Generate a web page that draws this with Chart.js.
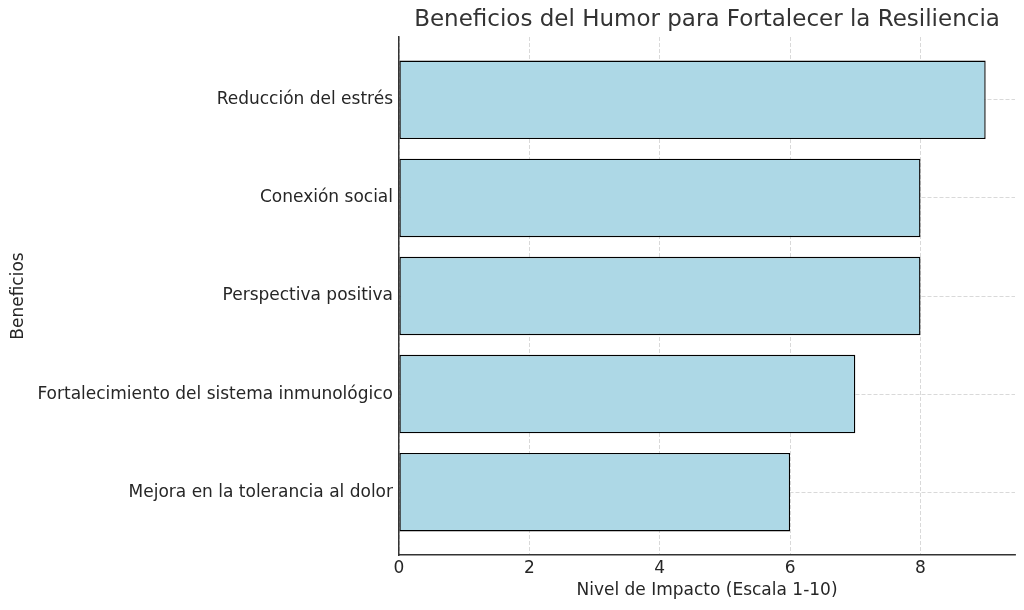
<!DOCTYPE html>
<html>
<head>
<meta charset="utf-8">
<script src="https://cdn.jsdelivr.net/npm/chart.js@4/dist/chart.umd.min.js"></script>
<style>
  body { margin: 0; background: #fff; }
  #wrap { width: 1024px; height: 610px; }
</style>
</head>
<body>
<div id="wrap"><canvas id="benefitsChart"></canvas></div>
<script>
// Benefits of humour chart - horizontal bars
const categories = [
    'Reducción del estrés',
    'Conexión social',
    'Perspectiva positiva',
    'Fortalecimiento del sistema inmunológico',
    'Mejora en la tolerancia al dolor'
];
const impactValues = [9, 8, 8, 7, 6];
const xTickValues = [0, 2, 4, 6, 8];
const chartTitle = 'Beneficios del Humor para Fortalecer la Resiliencia';

const FONT = 'DejaVu Sans';
const TEXT_COLOR = '#262626';

// title centered over the plot area, like the original
const titlePlugin = {
    id: 'plotTitle',
    afterDraw(chart) {
        const ctx = chart.ctx;
        const area = chart.chartArea;
        ctx.save();
        ctx.font = '23px "' + FONT + '"';
        ctx.fillStyle = '#333333';
        ctx.textAlign = 'center';
        ctx.textBaseline = 'middle';
        ctx.fillText(chartTitle, (area.left + area.right) / 2, 20);
        ctx.restore();
    }
};

const ctx = document.getElementById('benefitsChart');

new Chart(ctx, {
    type: 'bar',
    data: {
        datasets: [{
            data: impactValues.map((v, i) => ({ x: v, y: i })),
            backgroundColor: '#add8e6',
            borderColor: '#000000',
            borderWidth: 1.4,
            borderSkipped: false,
            categoryPercentage: 1,
            barPercentage: 0.8
        }]
    },
    options: {
        indexAxis: 'y',
        responsive: true,
        maintainAspectRatio: false,
        animation: false,
        layout: {
            padding: { top: 37, right: 9, bottom: 0, left: 0 }
        },
        plugins: {
            legend: { display: false },
            tooltip: { enabled: false },
            title: { display: false }
        },
        scales: {
            x: {
                type: 'linear',
                min: 0,
                max: 9.45,
                afterBuildTicks: scale => {
                    scale.ticks = xTickValues.map(v => ({ value: v }));
                },
                afterFit: scale => { scale.height = 55; },
                ticks: {
                    includeBounds: false,
                    padding: 3,
                    color: TEXT_COLOR,
                    font: { family: FONT, size: 17 }
                },
                grid: {
                    color: '#cfcfcf',
                    lineWidth: 0.8,
                    drawTicks: false
                },
                border: {
                    display: true,
                    color: '#333333',
                    width: 1.5,
                    dash: [4, 2]
                },
                title: {
                    display: true,
                    text: 'Nivel de Impacto (Escala 1-10)',
                    color: TEXT_COLOR,
                    font: { family: FONT, size: 17 },
                    padding: { top: 0, bottom: 9 }
                }
            },
            y: {
                type: 'linear',
                min: -0.64,
                max: 4.64,
                reverse: true,
                offset: false,
                afterBuildTicks: scale => {
                    scale.ticks = categories.map((c, i) => ({ value: i }));
                },
                afterFit: scale => { scale.width = 399; },
                ticks: {
                    padding: 6,
                    color: TEXT_COLOR,
                    font: { family: FONT, size: 17 },
                    callback: value => categories[value]
                },
                grid: {
                    offset: false,
                    color: '#cfcfcf',
                    lineWidth: 0.8,
                    drawTicks: false
                },
                border: {
                    display: true,
                    color: '#333333',
                    width: 1.5,
                    dash: [4, 2]
                },
                title: {
                    display: true,
                    text: 'Beneficios',
                    color: TEXT_COLOR,
                    font: { family: FONT, size: 17 },
                    padding: { top: 8, bottom: 0 }
                }
            }
        }
    },
    plugins: [titlePlugin]
});
</script>
</body>
</html>
